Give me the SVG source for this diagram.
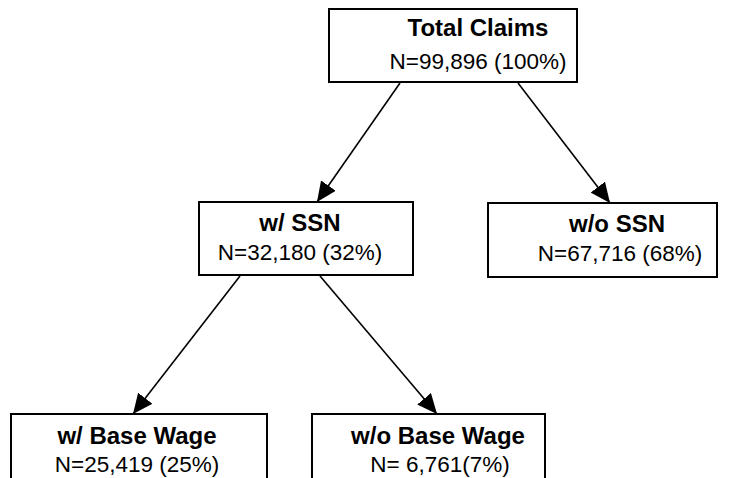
<svg xmlns="http://www.w3.org/2000/svg" width="735" height="478" viewBox="0 0 735 478">
<defs>
<style>
.box{fill:#fff;stroke:#000;stroke-width:2}
.t{font-family:"Liberation Sans",Arial,sans-serif;font-weight:bold;font-size:24px;text-anchor:middle;fill:#000}
.n{font-family:"Liberation Sans",Arial,sans-serif;font-size:22.5px;text-anchor:middle;fill:#000}
.c{stroke:#000;stroke-width:1.6;fill:none;marker-end:url(#ah)}
</style>
<marker id="ah" markerUnits="userSpaceOnUse" markerWidth="22" markerHeight="18" refX="20" refY="9" orient="auto">
<path d="M0,0 L20,9 L0,18 Z" fill="#000"/>
</marker>
</defs>
<rect width="735" height="478" fill="#fff"/>
<g id="connectors">
<line class="c" x1="400" y1="83" x2="317" y2="202"/>
<line class="c" x1="518" y1="83" x2="610" y2="203"/>
<line class="c" x1="240" y1="276" x2="133" y2="414"/>
<line class="c" x1="320" y1="276" x2="437" y2="414"/>
</g>
<g id="total">
<rect class="box" x="329" y="9" width="248" height="73"/>
<text class="t" x="478" y="36">Total Claims</text>
<text class="n" x="478" y="69">N=99,896 (100%)</text>
</g>
<g id="ssn">
<rect class="box" x="199" y="202" width="214" height="73"/>
<text class="t" x="300" y="231">w/ SSN</text>
<text class="n" x="300" y="260">N=32,180 (32%)</text>
</g>
<g id="nossn">
<rect class="box" x="488" y="203" width="229" height="74"/>
<text class="t" x="617" y="232">w/o SSN</text>
<text class="n" x="620" y="261">N=67,716 (68%)</text>
</g>
<g id="wage">
<rect class="box" x="11" y="414" width="256" height="80"/>
<text class="t" x="137" y="444">w/ Base Wage</text>
<text class="n" x="137" y="472">N=25,419 (25%)</text>
</g>
<g id="nowage">
<rect class="box" x="312" y="414" width="233" height="80"/>
<text class="t" x="438" y="444">w/o Base Wage</text>
<text class="n" x="440" y="472">N= 6,761(7%)</text>
</g>
</svg>
